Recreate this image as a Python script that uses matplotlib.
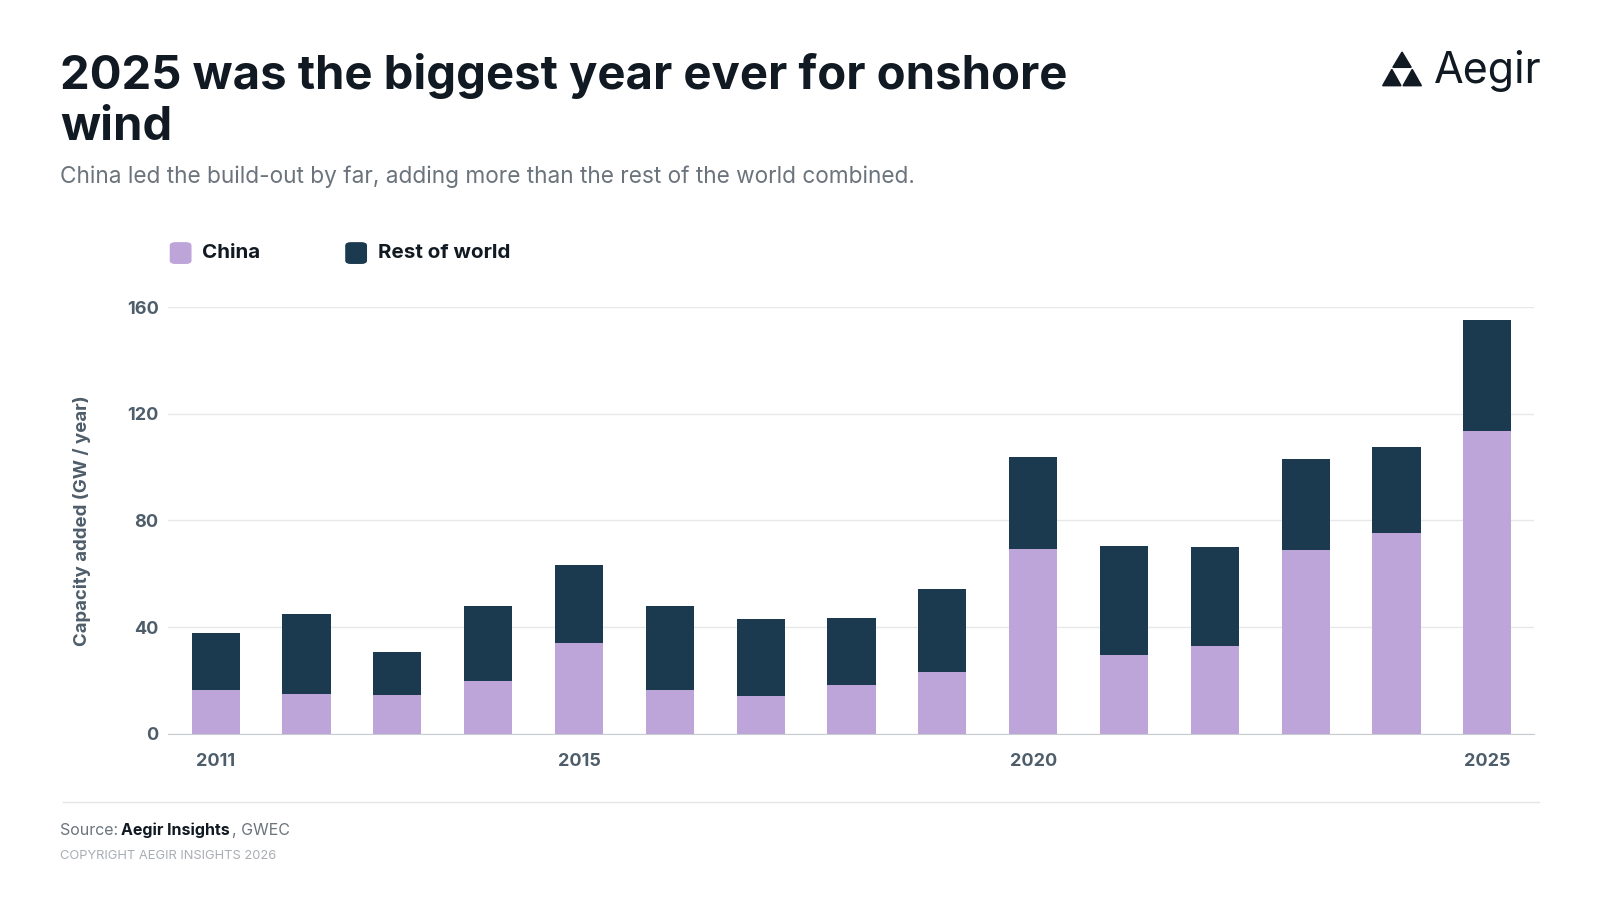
import matplotlib
matplotlib.use("Agg")
import matplotlib.pyplot as plt
from matplotlib.patches import Polygon, FancyBboxPatch
from matplotlib.lines import Line2D

years = list(range(2011, 2026))
china = [16.5, 14.9, 14.5, 19.9, 34.1, 16.5, 14.2, 18.4, 23.3, 69.3, 29.5, 32.9, 68.9, 75.4, 113.7]
total = [37.9, 44.8, 30.6, 47.8, 63.2, 47.8, 42.9, 43.3, 54.4, 103.7, 70.4, 70.0, 103.0, 107.6, 155.0]
rest = [t - c for t, c in zip(total, china)]
yticks = [0, 40, 80, 120, 160]
xticks = [2011, 2015, 2020, 2025]

plt.rcParams['font.family'] = ['Inter', 'DejaVu Sans']
C_CHINA = '#bea5d9'
C_ROW = '#1c3a4f'

fig = plt.figure(figsize=(16, 9), dpi=100)
W, H = 1568, 882
ax = fig.add_axes([165/W, 1-719/H, (1503-165)/W, (719-301)/H])
ax.bar(years, china, width=0.53, color=C_CHINA, zorder=3)
ax.bar(years, rest, bottom=china, width=0.53, color=C_ROW, zorder=3)
ax.set_xlim(2010.48, 2025.51)
ax.set_ylim(0, 160)
ax.set_yticks(yticks)
ax.set_xticks(xticks)
ax.grid(axis='y', color='#e6e8ea', lw=1, zorder=0)
for s in ['top', 'right', 'left']:
    ax.spines[s].set_visible(False)
ax.spines['bottom'].set_color('#c8ccd0')
ax.tick_params(length=0, labelsize=13, labelcolor='#4e5d6a', pad=14)
for t in ax.get_xticklabels() + ax.get_yticklabels():
    t.set_fontweight('bold')
ax.tick_params(axis='y', pad=7)
ax.set_ylabel('Capacity added (GW / year)', fontsize=13.4, color='#4e5d6a', fontweight='bold', labelpad=26)

fig.text(59/W, 1-74/H, '2025 was the biggest year ever for onshore', fontsize=34, fontweight='bold',
         color='#111a22', va='center')
fig.text(59/W, 1-125/H, 'wind', fontsize=34, fontweight='bold', color='#111a22', va='center')
fig.text(59/W, 1-173/H, 'China led the build-out by far, adding more than the rest of the world combined.',
         fontsize=16.3, color='#6b747c', va='center')

for x, c, lab in [(167, C_CHINA, 'China'), (339, C_ROW, 'Rest of world')]:
    fig.patches.append(FancyBboxPatch((x/W, 1-258/H), 20/W, 20/H,
                       boxstyle='round,pad=0,rounding_size=0.003', transform=fig.transFigure, color=c))
    fig.text((x+31)/W, 1-248/H, lab, fontsize=14.8, fontweight='bold', color='#111a22', va='center')

def tri(x0, y0, w, h):
    return Polygon([[x0/W, 1-y0/H], [(x0+w)/W, 1-y0/H], [(x0+w/2)/W, 1-(y0-h)/H]],
                   closed=True, transform=fig.transFigure, color='#111a22')
fig.patches.append(tri(1365, 66, 18, 15))
fig.patches.append(tri(1355, 84, 18, 16))
fig.patches.append(tri(1375, 84, 18, 16))
fig.text(1405/W, 1-70/H, 'Aegir', fontsize=31, color='#111a22', va='center')

fig.add_artist(Line2D([62/W, 1508/W], [1-786/H, 1-786/H], color='#e3e5e7', lw=1))
fig.text(59/W, 1-814/H, 'Source: ', fontsize=11.5, color='#6b747c', va='center')
fig.text(119/W, 1-814/H, 'Aegir Insights', fontsize=11.5, color='#111a22', fontweight='bold', va='center')
fig.text(227/W, 1-814/H, ', GWEC', fontsize=11.5, color='#6b747c', va='center')
fig.text(59/W, 1-839/H, 'COPYRIGHT AEGIR INSIGHTS 2026', fontsize=9.3, color='#a9aeb3', va='center')

fig.savefig('out.png', dpi=100, facecolor='white')
